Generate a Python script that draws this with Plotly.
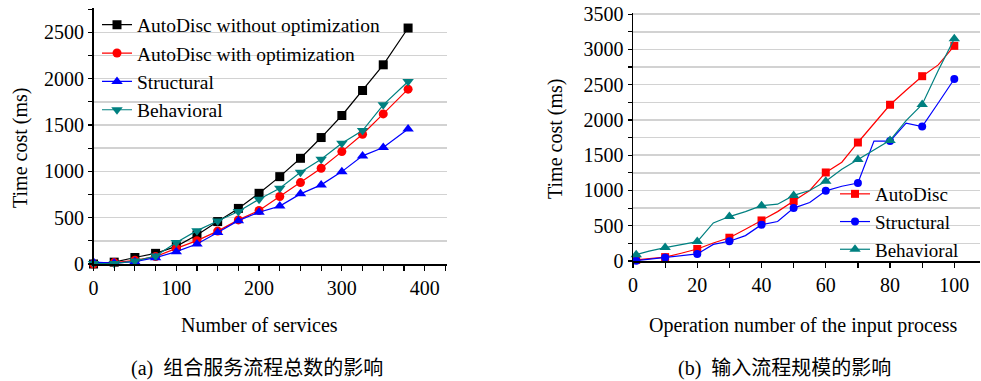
import plotly.graph_objects as go

# ---------------- data: (a) number of services ----------------
x_services = [0, 25, 50, 75, 100, 125, 150, 175, 200, 225, 250, 275, 300, 325, 350, 380]
a_no_opt = [0, 20, 70, 115, 190, 313, 458, 600, 763, 943, 1141, 1365, 1603, 1873, 2150, 2547]
a_opt = [0, 15, 40, 80, 169, 252, 355, 476, 577, 728, 879, 1033, 1213, 1400, 1620, 1887]
a_structural = [20, 10, 25, 68, 133, 216, 339, 468, 559, 625, 757, 854, 997, 1167, 1257, 1458]
a_behavioral = [5, 5, 32, 86, 231, 360, 465, 566, 699, 818, 990, 1130, 1303, 1440, 1718, 1970]

# ---------------- data: (b) operation number ----------------
x_ops = [1, 5, 10, 15, 20, 25, 30, 35, 40, 45, 50, 55, 60, 65, 70, 75, 80, 85, 90, 95, 100]
b_autodisc = [15, 35, 55, 110, 170, 255, 330, 450, 575, 700, 850, 1000, 1255, 1400, 1680, 1950, 2215, 2420, 2620, 2780, 3050]
b_structural = [5, 25, 50, 75, 100, 235, 280, 360, 515, 560, 750, 830, 995, 1060, 1105, 1700, 1700, 1955, 1905, 2240, 2580]
b_behavioral = [90, 140, 190, 230, 275, 540, 630, 700, 785, 805, 930, 1000, 1130, 1300, 1440, 1575, 1710, 1990, 2220, 2700, 3150]

names_a = ["AutoDisc without optimization", "AutoDisc with optimization", "Structural", "Behavioral"]
names_b = ["AutoDisc", "Structural", "Behavioral"]

FONT = "Times New Roman, Liberation Serif, Tinos, serif"
BLACK, RED, BLUE, TEAL = "#000000", "#FF0000", "#0000FF", "#008080"
GRID = "#d2d2d2"
W, H = 981, 381

fig = go.Figure()

# ---- panel (a)
for name, ys, color, sym in zip(names_a,
                                [a_no_opt, a_opt, a_structural, a_behavioral],
                                [BLACK, RED, BLUE, TEAL],
                                ["square", "circle", "triangle-up", "triangle-down"]):
    fig.add_trace(go.Scatter(
        x=x_services, y=ys, name=name, mode="lines+markers",
        line=dict(color=color, width=1.2),
        marker=dict(symbol=sym, size=10 if "triangle" in sym else 9, color=color),
        xaxis="x", yaxis="y", legend="legend", cliponaxis=False))

# ---- panel (b): lines through every vertex, markers every 10 operations
for name, ys, color, sym in zip(names_b,
                                [b_autodisc, b_structural, b_behavioral],
                                [RED, BLUE, TEAL],
                                ["square", "circle", "triangle-up"]):
    msize = 10 if "triangle" in sym else 8
    fig.add_trace(go.Scatter(
        x=x_ops, y=ys, mode="lines", line=dict(color=color, width=1.2),
        showlegend=False, xaxis="x2", yaxis="y2", cliponaxis=False, hoverinfo="skip"))
    fig.add_trace(go.Scatter(
        x=x_ops[::2], y=ys[::2], mode="markers", name=name,
        marker=dict(symbol=sym, size=msize, color=color),
        showlegend=False, xaxis="x2", yaxis="y2", cliponaxis=False))
    fig.add_trace(go.Scatter(
        x=[None], y=[None], mode="lines+markers", name=name,
        line=dict(color=color, width=1.2),
        marker=dict(symbol=sym, size=msize, color=color),
        xaxis="x2", yaxis="y2", legend="legend2"))

tickfont = dict(family=FONT, size=20, color="black")
axis_common = dict(showline=True, linecolor="black", linewidth=1.5, ticks="outside",
                   tickcolor="black", tickwidth=1.2, tickfont=tickfont, zeroline=False,
                   automargin=False)

fig.update_layout(
    width=W, height=H, margin=dict(l=0, r=0, t=0, b=0, pad=0, autoexpand=False),
    paper_bgcolor="white", plot_bgcolor="white",
    font=dict(family=FONT, size=20, color="black"),
    xaxis=dict(domain=[93.5 / W, 447 / W], range=[0, 427], dtick=100, ticklen=5,
               showgrid=False, anchor="y",
               minor=dict(dtick=25, ticks="outside", ticklen=5, tickcolor="black", showgrid=False),
               **axis_common),
    yaxis=dict(domain=[1 - 264 / H, 1 - 8.3 / H], range=[0, 2760], dtick=500, ticklen=4,
               showgrid=True, gridcolor=GRID, gridwidth=1.5, anchor="x",
               minor=dict(dtick=250, ticks="outside", ticklen=4, tickcolor="black",
                          showgrid=True, gridcolor=GRID, gridwidth=1.5),
               **axis_common),
    xaxis2=dict(domain=[633 / W, 980 / W], range=[0, 108], dtick=20, ticklen=5,
                showgrid=False, anchor="y2",
                minor=dict(dtick=10, ticks="outside", ticklen=5, tickcolor="black", showgrid=False),
                **axis_common),
    yaxis2=dict(domain=[1 - 261 / H, 1 - 12.7 / H], range=[0, 3520], dtick=500, ticklen=4,
                showgrid=True, gridcolor=GRID, gridwidth=1.5, anchor="x2",
                minor=dict(dtick=250, ticks="outside", ticklen=4, tickcolor="black",
                           showgrid=True, gridcolor=GRID, gridwidth=1.5),
                **axis_common),
    legend=dict(x=97 / W, y=1 - 5.5 / H, xanchor="left", yanchor="top",
                bgcolor="rgba(0,0,0,0)",
                font=dict(family=FONT, size=19.5, color="black"), borderwidth=0,
                tracegroupgap=0, itemclick=False),
    legend2=dict(x=835 / W, y=1 - 175 / H, xanchor="left", yanchor="top",
                 bgcolor="rgba(0,0,0,0)",
                 font=dict(family=FONT, size=19, color="black"), borderwidth=0,
                 tracegroupgap=0, itemclick=False),
    showlegend=True,
)

# white patches hiding the gridlines behind the legends (drawn between grid and traces)
legend_patches = [(97, 385, 12, 38), (97, 360, 38, 66), (97, 330, 66, 94), (97, 233, 94, 118),
                  (840, 970, 186, 258)]
for x0, x1, y0, y1 in legend_patches:
    fig.add_shape(type="rect", xref="paper", yref="paper",
                  x0=x0 / W, x1=x1 / W, y0=1 - y1 / H, y1=1 - y0 / H,
                  fillcolor="white", line=dict(width=0), layer="between")

ann_font = dict(family=FONT, size=20, color="black")
cap_font = dict(family="Times New Roman, Liberation Serif, Noto Sans CJK SC", size=20, color="black")
annotations = [
    dict(text="Time cost (ms)", x=20 / W, y=1 - 148 / H, textangle=-90, font=ann_font),
    dict(text="Time cost (ms)", x=555 / W, y=1 - 139 / H, textangle=-90, font=ann_font),
    dict(text="Number of services", x=259 / W, y=1 - 325 / H, font=ann_font),
    dict(text="Operation number of the input process", x=803 / W, y=1 - 325 / H, font=ann_font),
    dict(text="(a)  组合服务流程总数的影响", x=257 / W, y=1 - 368 / H, font=cap_font),
    dict(text="(b)  输入流程规模的影响", x=784 / W, y=1 - 368 / H, font=cap_font),
]
for a in annotations:
    a.update(xref="paper", yref="paper", xanchor="center", yanchor="middle", showarrow=False)
fig.update_layout(annotations=annotations)

fig.write_html("out.html", config={"displayModeBar": False, "staticPlot": True},
               post_script="document.body.style.margin='0px';document.body.style.overflow='hidden';")
